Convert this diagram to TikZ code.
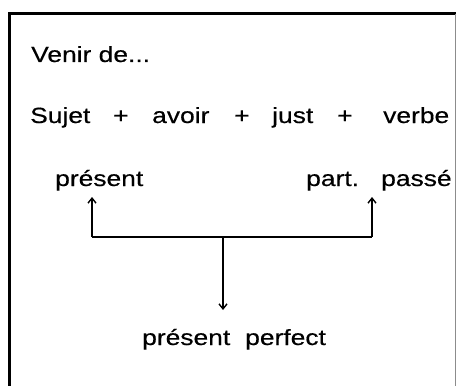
\documentclass[tikz,border=0pt]{standalone}
\usepackage{fontspec}
\setmainfont{Liberation Sans}[FakeStretch=1.2,FakeBold=0.4]
\usetikzlibrary{arrows.meta}
\begin{document}
\begin{tikzpicture}[x=1pt,y=-1pt,
  txt/.style={anchor=base west,inner sep=0pt,font=\fontsize{22}{26}\selectfont},
  arr/.style={line width=1.4pt,-{Straight Barb[length=5pt,width=8pt,line width=1.4pt]}},
  ln/.style={line width=1.4pt}]
\useasboundingbox (0,0) rectangle (457,385);
% frame
\draw[line width=3pt] (456,14) -- (9,14) -- (9,390);
\draw[line width=0.8pt,black!45] (455,14) -- (455,390);
% texts
\node[txt] (venir) at (31,62) {Venir de...};
\node[txt] (sujet) at (30,123) {Sujet};
\node[txt] (p1) at (113,123) {+};
\node[txt] (avoir) at (152,123) {avoir};
\node[txt] (p2) at (234,123) {+};
\node[txt] (just) at (272,123) {just};
\node[txt] (p3) at (337,123) {+};
\node[txt] (verbe) at (383,123) {verbe};
\node[txt] (pres) at (55,186) {présent};
\node[txt] (part) at (306,186) {part.};
\node[txt] (passe) at (381,186) {passé};
\node[txt] (pp1) at (142,345) {présent};
\node[txt] (pp2) at (245,345) {perfect};
% connectors
\coordinate (jl) at (92,237);
\coordinate (jr) at (372,237);
\coordinate (jc) at (223,237);
\coordinate (tl) at (92,197);
\coordinate (tr) at (372,197);
\coordinate (tc) at (223,310);
\draw[ln] (jl) -- (jr);
\draw[arr] (jl) -- (tl);
\draw[arr] (jr) -- (tr);
\draw[arr] (jc) -- (tc);
\end{tikzpicture}
\end{document}
